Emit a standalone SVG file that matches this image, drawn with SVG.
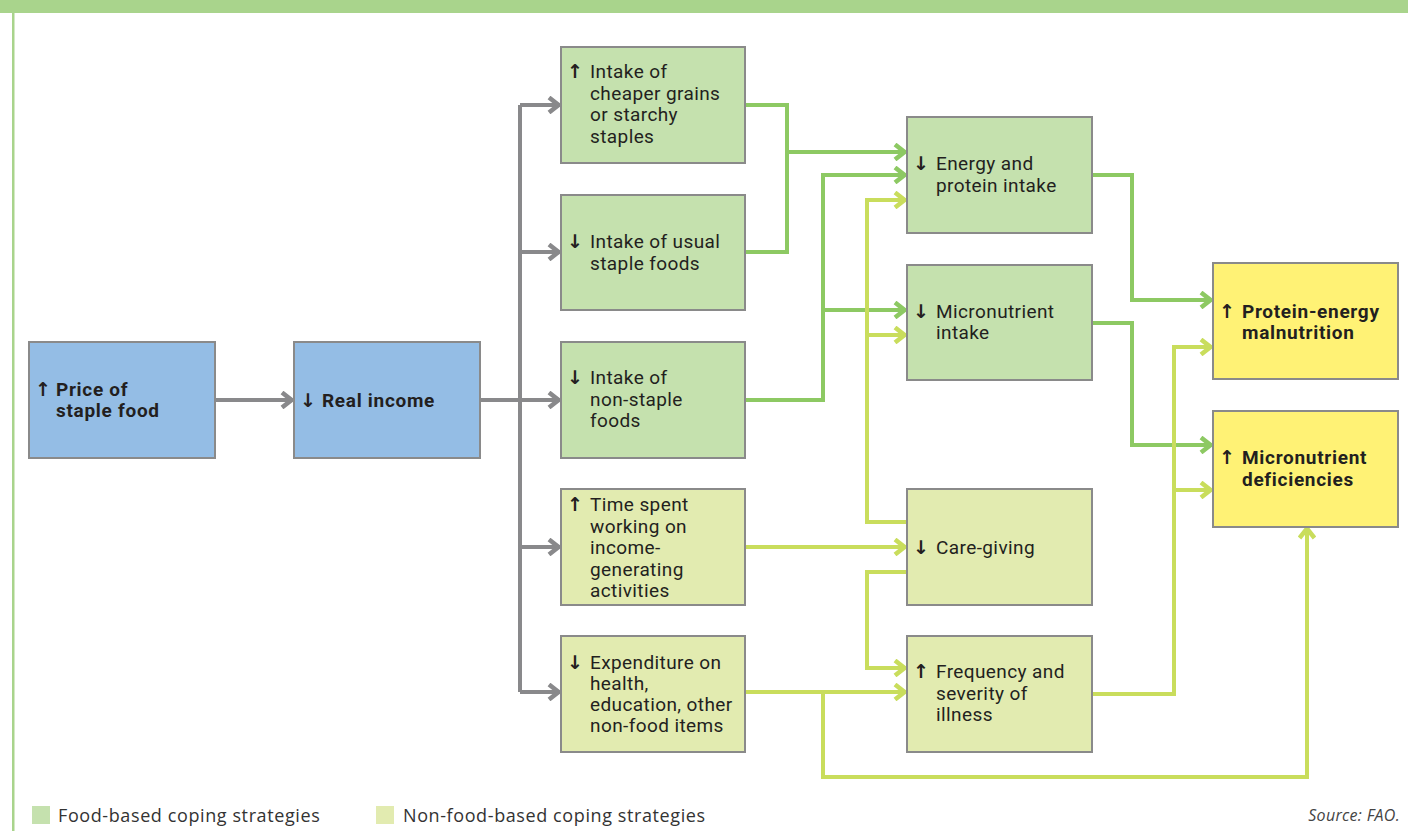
<svg xmlns="http://www.w3.org/2000/svg" width="1408" height="839" viewBox="0 0 1408 839">
<style>
.box{stroke:#8a8a8a;stroke-width:2}
.blue{fill:#94bde5}.food{fill:#c5e1ae}.nonfood{fill:#e2ebb0}.out{fill:#fff275}
.t{font-family:Roboto,"Liberation Sans",sans-serif;font-size:19px;letter-spacing:0.4px;fill:#231f20}
.b{font-weight:bold;letter-spacing:0.7px}
.a{font-family:"DejaVu Sans",sans-serif;font-size:19px;font-weight:bold;fill:#231f20;text-anchor:middle}
.c{fill:none;stroke-width:4;stroke-linejoin:miter}
.gray{stroke:#89898b}.green{stroke:#8dc963}.yg{stroke:#c9dd5c}
.leg{font-family:"Open Sans","Liberation Sans",sans-serif;font-size:18px;letter-spacing:0.6px;fill:#333}
</style>
<defs>
<marker id="ag" markerUnits="userSpaceOnUse" markerWidth="14" markerHeight="18" viewBox="0 0 14 18" refX="12" refY="9" orient="auto"><path d="M2,1.5 L11.5,9 L2,16.5" fill="none" stroke="#89898b" stroke-width="4.5"/></marker>
<marker id="agr" markerUnits="userSpaceOnUse" markerWidth="14" markerHeight="18" viewBox="0 0 14 18" refX="12" refY="9" orient="auto"><path d="M2,1.5 L11.5,9 L2,16.5" fill="none" stroke="#8dc963" stroke-width="4.5"/></marker>
<marker id="ay" markerUnits="userSpaceOnUse" markerWidth="14" markerHeight="18" viewBox="0 0 14 18" refX="12" refY="9" orient="auto"><path d="M2,1.5 L11.5,9 L2,16.5" fill="none" stroke="#c9dd5c" stroke-width="4.5"/></marker>
</defs>
<rect width="1408" height="839" fill="#fff"/>
<rect x="0" y="0" width="1408" height="13" fill="#a9d48c"/>
<rect x="12" y="13" width="2.5" height="818" fill="#a9d48c"/>

<g id="connectors">
<path class="c gray" d="M215,400 H292" marker-end="url(#ag)"/>
<path class="c gray" d="M520,105 V692"/>
<path class="c gray" d="M480,400 H559" marker-end="url(#ag)"/>
<path class="c gray" d="M520,105 H559" marker-end="url(#ag)"/>
<path class="c gray" d="M520,252 H559" marker-end="url(#ag)"/>
<path class="c gray" d="M520,547 H559" marker-end="url(#ag)"/>
<path class="c gray" d="M520,692 H559" marker-end="url(#ag)"/>

<path class="c green" d="M745,105 H787 V252 H745"/>
<path class="c green" d="M787,152 H905" marker-end="url(#agr)"/>
<path class="c green" d="M745,400 H823 V175 H905" marker-end="url(#agr)"/>
<path class="c green" d="M823,310 H905" marker-end="url(#agr)"/>
<path class="c green" d="M1092,175 H1132 V300 H1211" marker-end="url(#agr)"/>
<path class="c green" d="M1092,323 H1132 V445 H1211" marker-end="url(#agr)"/>

<path class="c yg" d="M907,522 H867 V200 H905" marker-end="url(#ay)"/>
<path class="c yg" d="M867,335 H905" marker-end="url(#ay)"/>
<path class="c yg" d="M745,547 H905" marker-end="url(#ay)"/>
<path class="c yg" d="M907,572 H867 V668 H905" marker-end="url(#ay)"/>
<path class="c yg" d="M745,692 H905" marker-end="url(#ay)"/>
<path class="c yg" d="M823,692 V777 H1307 V528" marker-end="url(#ay)"/>
<path class="c yg" d="M1092,694 H1174 V347 H1211" marker-end="url(#ay)"/>
<path class="c yg" d="M1174,490 H1211" marker-end="url(#ay)"/>
</g>

<g id="price">
<rect class="box blue" x="29" y="342" width="186" height="116"/>
<text class="a" x="43" y="396">↑</text>
<text class="t b" x="56" y="396">Price of</text>
<text class="t b" x="56" y="417">staple food</text>
</g>
<g id="income">
<rect class="box blue" x="294" y="342" width="186" height="116"/>
<text class="a" x="308" y="407">↓</text>
<text class="t b" x="322" y="407">Real income</text>
</g>

<g id="cheaper">
<rect class="box food" x="561" y="47" width="184" height="116"/>
<text class="a" x="575" y="78">↑</text>
<text class="t" x="590" y="78">Intake of</text>
<text class="t" x="590" y="100">cheaper grains</text>
<text class="t" x="590" y="121">or starchy</text>
<text class="t" x="590" y="143">staples</text>
</g>
<g id="usual">
<rect class="box food" x="561" y="195" width="184" height="115"/>
<text class="a" x="575" y="248">↓</text>
<text class="t" x="590" y="248">Intake of usual</text>
<text class="t" x="590" y="270">staple foods</text>
</g>
<g id="nonstaple">
<rect class="box food" x="561" y="342" width="184" height="116"/>
<text class="a" x="575" y="384">↓</text>
<text class="t" x="590" y="384">Intake of</text>
<text class="t" x="590" y="406">non-staple</text>
<text class="t" x="590" y="427">foods</text>
</g>
<g id="timespent">
<rect class="box nonfood" x="561" y="489" width="184" height="116"/>
<text class="a" x="575" y="511">↑</text>
<text class="t" x="590" y="511">Time spent</text>
<text class="t" x="590" y="533">working on</text>
<text class="t" x="590" y="554">income-</text>
<text class="t" x="590" y="576">generating</text>
<text class="t" x="590" y="597">activities</text>
</g>
<g id="expenditure">
<rect class="box nonfood" x="561" y="636" width="184" height="116"/>
<text class="a" x="575" y="669">↓</text>
<text class="t" x="590" y="669">Expenditure on</text>
<text class="t" x="590" y="690">health,</text>
<text class="t" x="590" y="711">education, other</text>
<text class="t" x="590" y="732">non-food items</text>
</g>

<g id="energy">
<rect class="box food" x="907" y="117" width="185" height="116"/>
<text class="a" x="921" y="170">↓</text>
<text class="t" x="936" y="170">Energy and</text>
<text class="t" x="936" y="192">protein intake</text>
</g>
<g id="micro">
<rect class="box food" x="907" y="265" width="185" height="115"/>
<text class="a" x="921" y="318">↓</text>
<text class="t" x="936" y="318">Micronutrient</text>
<text class="t" x="936" y="339">intake</text>
</g>
<g id="care">
<rect class="box nonfood" x="907" y="489" width="185" height="116"/>
<text class="a" x="921" y="554">↓</text>
<text class="t" x="936" y="554">Care-giving</text>
</g>
<g id="illness">
<rect class="box nonfood" x="907" y="636" width="185" height="116"/>
<text class="a" x="921" y="678">↑</text>
<text class="t" x="936" y="678">Frequency and</text>
<text class="t" x="936" y="700">severity of</text>
<text class="t" x="936" y="721">illness</text>
</g>

<g id="pem">
<rect class="box out" x="1213" y="263" width="185" height="116"/>
<text class="a" x="1227" y="318">↑</text>
<text class="t b" x="1242" y="318">Protein-energy</text>
<text class="t b" x="1242" y="339">malnutrition</text>
</g>
<g id="mnd">
<rect class="box out" x="1213" y="411" width="185" height="116"/>
<text class="a" x="1227" y="464">↑</text>
<text class="t b" x="1242" y="464">Micronutrient</text>
<text class="t b" x="1242" y="486">deficiencies</text>
</g>

<g id="legend">
<rect x="32" y="806" width="18" height="18" fill="#c5e1ae"/>
<text class="leg" x="58" y="822">Food-based coping strategies</text>
<rect x="376" y="806" width="18" height="18" fill="#e2ebb0"/>
<text class="leg" x="403" y="822">Non-food-based coping strategies</text>
<text x="1400" y="821" text-anchor="end" style="font-family:'Open Sans','Liberation Sans',sans-serif;font-size:16px;letter-spacing:0.3px;font-style:italic;fill:#444">Source: FAO.</text>
</g>
</svg>
